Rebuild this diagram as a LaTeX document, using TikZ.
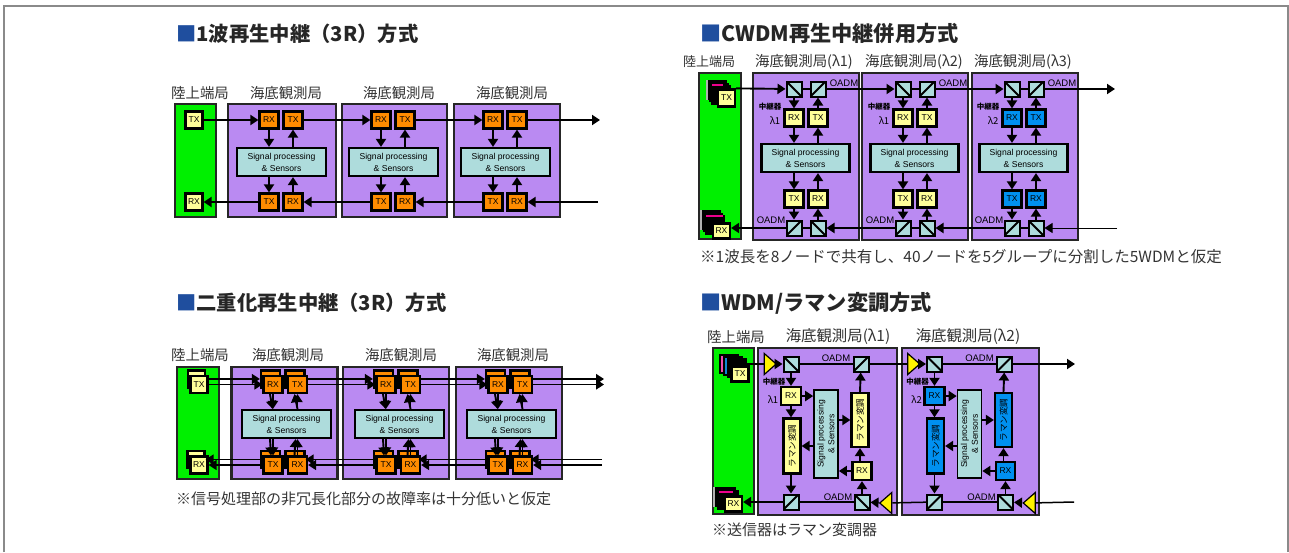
\documentclass[tikz,border=0pt]{standalone}
\usepackage{fontspec}
\usepackage{graphicx}
\setmainfont{Noto Sans CJK JP}
\newfontfamily\boxfont{Liberation Sans}
\usetikzlibrary{arrows.meta,shapes.geometric}
\definecolor{framegray}{HTML}{8A8A8A}
\definecolor{landgreen}{HTML}{00F000}
\definecolor{stationpurple}{HTML}{BA8AF2}
\definecolor{unitorange}{HTML}{FF8C00}
\definecolor{unityellow}{HTML}{FFFF99}
\definecolor{unitblue}{HTML}{0090F0}
\definecolor{signalcyan}{HTML}{AEDCDC}
\definecolor{headblue}{HTML}{1F4E9E}
\definecolor{textdark}{HTML}{333333}
\begin{document}
\begin{tikzpicture}[x=1pt,y=-1pt,
    heading/.style={anchor=west, inner sep=0, font=\fontsize{20.3}{22}\selectfont\bfseries, text=black!85},
    toplabel/.style={inner sep=0, text=textdark, font=\fontsize{14.4}{16}\selectfont},
    note/.style={anchor=west, inner sep=0, text=textdark, font=\fontsize{15}{16}\selectfont},
    land/.style={draw=black!85, fill=landgreen, line width=2.2pt, inner sep=0},
    station/.style={draw=black!85, fill=stationpurple, line width=2.2pt, inner sep=0},
    unit/.style={draw=black, line width=2.2pt, inner sep=0, minimum width=19pt, minimum height=17pt, font=\boxfont\fontsize{8.5}{9}\selectfont},
    signal/.style={draw=black, fill=signalcyan, line width=2.2pt, inner sep=0, align=center, font=\boxfont\fontsize{8.6}{12}\selectfont},
    oadmdown/.style={draw=black, fill=signalcyan, line width=2pt, inner sep=0, minimum size=15pt, path picture={\draw[line width=2pt] (path picture bounding box.north west) -- (path picture bounding box.south east);}},
    oadmup/.style={draw=black, fill=signalcyan, line width=2pt, inner sep=0, minimum size=15pt, path picture={\draw[line width=2pt] (path picture bounding box.south west) -- (path picture bounding box.north east);}},
    amp/.style={isosceles triangle, isosceles triangle stretches, draw=black, fill=yellow, line width=1.2pt, inner sep=0, minimum height=12pt, minimum width=21pt},
    stackbox/.style={draw=black, line width=1.8pt, inner sep=0, minimum width=18pt, minimum height=18pt},
    small/.style={inner sep=0, font=\boxfont\fontsize{9.5}{10}\selectfont},
    smallcjk/.style={inner sep=0, font=\fontsize{7.5}{8}\selectfont\bfseries},
    conn/.style={line width=1.9pt, -{Triangle[length=8pt,width=10pt]}},
    wire/.style={line width=1.5pt}]
  \useasboundingbox (0,0) rectangle (1289,552);
  \draw[framegray, line width=1.3pt] (4,552) -- (4,6) -- (1288,6) -- (1288,552);

  \node[heading] (atitle) at (176,34) {\textcolor{headblue}{■}1波再生中継（3R）方式};
  \node[heading] (btitle) at (176,303) {\textcolor{headblue}{■}二重化再生中継（3R）方式};
  \node[heading, font=\fontsize{21.2}{22}\selectfont\bfseries] (ctitle) at (700,33) {\textcolor{headblue}{■}CWDM再生中継併用方式};
  \node[heading, font=\fontsize{21.2}{22}\selectfont\bfseries] (dtitle) at (700,303) {\textcolor{headblue}{■}WDM/ラマン変調方式};

  \node[toplabel] (alabel) at (200,93) {陸上端局};
  \node[land, minimum width=41pt, minimum height=113pt] (aland) at (195.5,160.5) {};
  \node[unit, fill=unityellow, minimum width=17pt] (atx) at (194,120) {TX};
  \node[unit, fill=unityellow, minimum width=17pt] (arx) at (194,202) {RX};
  \coordinate (aout) at (600,120);
  \coordinate (ain) at (598,202);
  \foreach \n/\sx/\ux/\w/\lx in {1/282/269/108/286,2/394.5/381/105/399,3/507/493/106/512} {
    \node[toplabel] (alabel\n) at (\lx,93) {海底観測局};
    \node[station, minimum width=\w pt, minimum height=113pt] (as\n) at (\sx,160.5) {};
    \node[unit, fill=unitorange] (art\n) at (\ux,120) {RX};
    \node[unit, fill=unitorange] (att\n) at (\ux+24,120) {TX};
    \node[unit, fill=unitorange] (atb\n) at (\ux,202) {TX};
    \node[unit, fill=unitorange] (arb\n) at (\ux+24,202) {RX};
    \node[signal, minimum width=89pt, minimum height=28pt] (asg\n) at (\ux+12.5,162) {Signal processing\\\& Sensors};
    \draw[conn] (art\n) -- (art\n |- asg\n.north);
    \draw[conn] (att\n |- asg\n.north) -- (att\n);
    \draw[conn] (atb\n |- asg\n.south) -- (atb\n);
    \draw[conn] (arb\n) -- (arb\n |- asg\n.south);
  }
  \foreach \a/\b in {atx/art1,att1/art2,att2/art3,att3/aout,ain/arb3,atb3/arb2,atb2/arb1,atb1/arx}
    \draw[conn] (\a) -- (\b);

  \node[toplabel] (blabel) at (200,355) {陸上端局};
  \node[land, minimum width=42pt, minimum height=112pt] (bland) at (198,423) {};
  \node[unit, fill=unityellow, minimum width=17pt] (bbtx) at (196.5,379) {};
  \node[unit, fill=unityellow, minimum width=17pt] (btx) at (199,384.5) {TX};
  \node[unit, fill=unityellow, minimum width=17pt] (bbrx) at (196,459.5) {};
  \node[unit, fill=unityellow, minimum width=17pt] (brx) at (199,465) {RX};
  \coordinate (bout) at (604,384.5);
  \coordinate (bbout) at (604,379);
  \coordinate (bin) at (602,465);
  \coordinate (bbin) at (602,459.5);
  \foreach \n/\sx/\ux/\w/\lx in {1/284.5/273/106/288,2/396/386/106/401,3/509/498/106/513} {
    \node[toplabel] (blabel\n) at (\lx,355) {海底観測局};
    \node[station, minimum width=\w pt, minimum height=112pt] (bs\n) at (\sx,423) {};
    \node[unit, fill=unitorange] (bbrt\n) at (\ux-2.5,379) {};
    \node[unit, fill=unitorange] (bbtt\n) at (\ux+22,379) {};
    \node[unit, fill=unitorange] (bbtb\n) at (\ux-2.5,459.5) {};
    \node[unit, fill=unitorange] (bbrb\n) at (\ux+22,459.5) {};
    \node[unit, fill=unitorange] (brt\n) at (\ux,384.5) {RX};
    \node[unit, fill=unitorange] (btt\n) at (\ux+24.5,384.5) {TX};
    \node[unit, fill=unitorange] (btb\n) at (\ux,465) {TX};
    \node[unit, fill=unitorange] (brb\n) at (\ux+24.5,465) {RX};
    \node[signal, minimum width=89pt, minimum height=28pt] (bsg\n) at (\ux+13.5,424) {Signal processing\\\& Sensors};
    \draw[conn] (brt\n) -- (brt\n |- bsg\n.north);
    \draw[conn] ([xshift=-3pt]brt\n.south) -- ([xshift=-0.5pt]brt\n |- bsg\n.north);
    \draw[conn] (btt\n |- bsg\n.north) -- (btt\n);
    \draw[conn] (btt\n |- bsg\n.north) -- ([xshift=-3pt]btt\n.south);
    \draw[conn] (btb\n |- bsg\n.south) -- (btb\n.north);
    \draw[conn] ([xshift=-3pt]btb\n |- bsg\n.south) -- ([xshift=-2pt]btb\n.north);
    \draw[conn] (brb\n.north) -- (brb\n |- bsg\n.south);
    \draw[conn] ([xshift=-3pt]brb\n.north) -- ([xshift=-2pt]brb\n |- bsg\n.south);
  }
  \foreach \a/\b in {btx/brt1,btt1/brt2,btt2/brt3,btt3/bout,bin/brb3,btb3/brb2,btb2/brb1,btb1/brx}
    \draw[conn, line width=1.5pt] (\a) -- (\b);
  \foreach \a/\b in {bbtt1/bbrt2,bbtt2/bbrt3,bbtt3/bbout,bbin/bbrb3,bbtb3/bbrb2,bbtb2/bbrb1,bbtb1/bbrx}
    \draw[conn, line width=1.5pt] (\a) -- (\b);
  \draw[conn, line width=1.5pt] (btx.east |- bbtx) -- (bbrt1);
  \node[note] (bnote) at (176,499) {※信号処理部の非冗長化部分の故障率は十分低いと仮定};

  \node[toplabel, font=\fontsize{13}{14}\selectfont] (clabel) at (709,62) {陸上端局};
  \node[land, minimum width=42pt, minimum height=166pt] (cland) at (720,156) {};
  \foreach \k in {0,1,2}
    \node[stackbox, fill=black] (cstx\k) at (717+\k*2,90+\k*2.5) {};
  \draw[gray!60, line width=1.3pt] (cstx0.north west) -- (cstx0.south west);
  \draw[magenta, line width=1.2pt] (712,85) -- (723,85);
  \node[unit, fill=unityellow, minimum width=17pt] (ctx) at (726.5,98) {TX};
  \foreach \k in {0,1,2}
    \node[stackbox, fill=black] (csrx\k) at (711+\k*2,220+\k*2.5) {};
  \draw[gray!60, line width=1.3pt] (csrx0.north west) -- (csrx0.south west);
  \draw[magenta, line width=1.2pt] (706,216) -- (723,216);
  \node[unit, fill=unityellow, minimum width=17pt, minimum height=15pt] (crx) at (721.5,231) {RX};
  \coordinate (cout) at (1115,89);
  \coordinate (cin) at (1117,228);
  \foreach \n/\sx/\dx/\w/\col/\lam/\lx in {1/806/0/106/unityellow/1/804,2/915/109/106/unityellow/1/914,3/1025/218/106/unitblue/2/1023} {
    \node[toplabel, font=\fontsize{14.4}{15}\selectfont] (clabel\n) at (\lx,62) {海底観測局(λ\n)};
    \node[station, minimum width=\w pt, minimum height=167pt] (cs\n) at (\sx,156.5) {};
    \node[small] (coa\n) at (844+\dx,83) {OADM};
    \node[small] (cob\n) at (771+\dx,220) {OADM};
    \node[smallcjk] (crep\n) at (770+\dx,107) {中継器};
    \node[inner sep=0, font=\fontsize{9.5}{10}\selectfont] (clam\n) at (775+\dx,121) {λ\lam};
    \node[oadmdown] (cotl\n) at (794+\dx,89) {};
    \node[oadmup] (cotr\n) at (818+\dx,89) {};
    \node[oadmup] (cobl\n) at (794+\dx,228) {};
    \node[oadmdown] (cobr\n) at (818+\dx,228) {};
    \node[unit, fill=\col] (crt\n) at (794+\dx,118) {RX};
    \node[unit, fill=\col] (ctt\n) at (818+\dx,118) {TX};
    \node[unit, fill=\col] (ctb\n) at (794+\dx,199) {TX};
    \node[unit, fill=\col] (crb\n) at (818+\dx,199) {RX};
    \node[signal, minimum width=88pt, minimum height=28pt] (csg\n) at (805.5+\dx,158) {Signal processing\\\& Sensors};
    \draw[conn] (cotl\n) -- (crt\n);
    \draw[conn] (ctt\n) -- (cotr\n);
    \draw[conn] (crt\n) -- (crt\n |- csg\n.north);
    \draw[conn] (ctt\n |- csg\n.north) -- (ctt\n);
    \draw[conn] (ctb\n |- csg\n.south) -- (ctb\n);
    \draw[conn] (crb\n) -- (crb\n |- csg\n.south);
    \draw[conn] (ctb\n) -- (cobl\n);
    \draw[conn] (cobr\n) -- (crb\n);
    \draw[wire] (cotl\n) -- (cotr\n);
    \draw[wire] (cobr\n) -- (cobl\n);
  }
  \draw[conn] (ctx.north east) -- (cotl1);
  \foreach \a/\b in {cotr1/cotl2,cotr2/cotl3,cotr3/cout,cobl3/cobr2,cobl2/cobr1}
    \draw[conn] (\a) -- (\b);
  \draw[conn, line width=1pt] (cin) -- (cobr3);
  \draw[conn] (cobl1) -- (crx.east |- cobl1);
  \node[note, font=\fontsize{15.5}{16}\selectfont] (cnote) at (700,257) {※1波長を8ノードで共有し、40ノードを5グループに分割した5WDMと仮定};

  \node[toplabel] (dlabel) at (736,337) {陸上端局};
  \node[land, minimum width=41pt, minimum height=166pt] (dland) at (733.5,431) {};
  \node[stackbox, fill=magenta!70] (dstx0) at (729,364) {};
  \node[stackbox, fill=cyan!70!blue] (dstx1) at (733,366) {};
  \node[stackbox, fill=black] (dstx2) at (737,368) {};
  \node[unit, fill=unityellow, minimum width=17pt, minimum height=15pt] (dtx) at (740,374) {TX};
  \node[stackbox, fill=black, minimum width=20pt] (dsrx0) at (725,497) {};
  \node[stackbox, fill=black, minimum width=20pt] (dsrx1) at (728,500) {};
  \draw[gray!60, line width=1.3pt] (dsrx0.north west) -- (dsrx0.south west);
  \draw[magenta, line width=1.2pt] (719,492) -- (733,492);
  \node[unit, fill=unityellow, minimum width=17pt, minimum height=15pt] (drx) at (733.5,504) {RX};
  \coordinate (dout) at (1075,364);
  \coordinate (din) at (1074,502);
  \foreach \n/\sx/\dx/\w/\col/\lx in {1/827.5/0/139/unityellow/838,2/970.5/143.5/137/unitblue/968} {
    \node[toplabel, font=\fontsize{15.4}{16}\selectfont] (dlabel\n) at (\lx,337) {海底観測局(λ\n)};
    \node[station, minimum width=\w pt, minimum height=167pt] (ds\n) at (\sx,431.5) {};
    \node[small] (doa\n) at (836+\dx,358) {OADM};
    \node[small] (dob\n) at (838+\dx,497) {OADM};
    \node[smallcjk] (drep\n) at (774+\dx,382) {中継器};
    \node[inner sep=0, font=\fontsize{9.5}{10}\selectfont] (dlam\n) at (773+\dx,400) {λ\n};
    \node[amp] (dat\n) at (769+\dx,364) {};
    \node[amp, shape border rotate=180] (dab\n) at (887+\dx,503) {};
    \node[oadmdown] (dotl\n) at (791+\dx,364) {};
    \node[oadmup] (dotr\n) at (861+\dx,364) {};
    \node[oadmup] (dobl\n) at (791+\dx,502) {};
    \node[oadmdown] (dobr\n) at (862+\dx,502) {};
    \node[unit, fill=\col, minimum width=20pt, minimum height=18pt] (drt\n) at (791+\dx,396) {RX};
    \node[unit, fill=\col, minimum width=19pt, minimum height=18pt] (drb\n) at (862+\dx,471) {RX};
    \node[unit, fill=\col, minimum width=17pt, minimum height=55pt, font=\fontsize{8.6}{9}\selectfont] (dml\n) at (792+\dx,446) {\rotatebox{90}{ラマン変調}};
    \node[unit, fill=\col, minimum width=17pt, minimum height=54pt, font=\fontsize{8.6}{9}\selectfont] (dmr\n) at (860+\dx,420) {\rotatebox{90}{ラマン変調}};
    \node[signal, minimum width=24pt, minimum height=88pt, line width=1.6pt] (dsg\n) at (826+\dx,434) {\rotatebox{90}{\shortstack{Signal processing\\\& Sensors}}};
    \draw[conn] (dat\n) -- (dotl\n);
    \draw[wire] (dotl\n) -- (dotr\n);
    \draw[wire] (dobr\n) -- (dobl\n);
    \draw[conn] (dab\n) -- (dobr\n);
    \draw[conn] (dotl\n) -- (drt\n);
    \draw[conn] (drt\n) -- (drt\n |- dml\n.north);
    \draw[conn] (dml\n.south -| dobl\n) -- (dobl\n);
    \draw[conn] (dobr\n) -- (drb\n);
    \draw[conn] (drb\n.north -| dmr\n) -- (dmr\n);
    \draw[conn] (dmr\n.north) -- (dotr\n);
    \draw[conn] (drt\n.east) -- (dsg\n.west |- drt\n);
    \draw[conn] (dsg\n.west |- dml\n) -- (dml\n.east);
    \draw[conn] (dsg\n.east |- dmr\n) -- (dmr\n.west);
    \draw[conn] (drb\n.west) -- (dsg\n.east |- drb\n);
  }
  \draw[wire] (dstx0.east |- dat1) -- (dat1);
  \draw[wire] (dotr1) -- (dat2);
  \draw[conn] (dotr2) -- (dout);
  \draw[wire] (din) -- (dab2);
  \draw[wire] (dobl2) -- (dab1);
  \draw[conn] (dobl1) -- (drx.east |- dobl1);
  \node[note] (dnote) at (712,530) {※送信器はラマン変調器};
\end{tikzpicture}
\end{document}
